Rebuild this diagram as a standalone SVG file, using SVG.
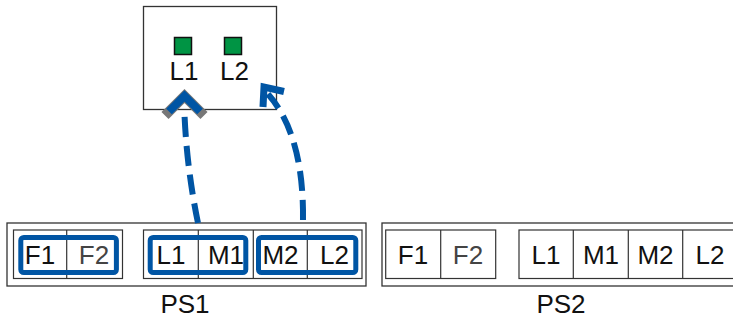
<svg xmlns="http://www.w3.org/2000/svg" width="733" height="320" viewBox="0 0 733 320">
<style>
.box{fill:#fff;stroke:#333;stroke-width:1.3}
.cell{fill:none;stroke:#333;stroke-width:1.2}
.sel{fill:none;stroke:#0055A4;stroke-width:5}
.t{font-family:"Liberation Sans",Arial,sans-serif;font-size:26px;fill:#111;text-anchor:middle}
.g{fill:#444}
.sq{fill:#009444;stroke:#111;stroke-width:1.5}
.dash{fill:none;stroke:#0055A4;stroke-width:6;stroke-dasharray:20 9}
</style>
<g id="top">
<rect class="box" x="143.5" y="6.5" width="133" height="103"/>
<rect class="sq" x="174.5" y="37.5" width="17" height="17"/>
<rect class="sq" x="224.5" y="37.5" width="17" height="17"/>
<text class="t" x="184" y="80">L1</text>
<text class="t" x="234.5" y="80">L2</text>
</g>
<g id="PS1">
<rect class="box" x="7" y="223" width="359" height="63"/>
<rect class="cell" x="13.5" y="230" width="109" height="48.5"/>
<line class="cell" x1="66.7" y1="230" x2="66.7" y2="278.5"/>
<rect class="cell" x="143.5" y="230" width="218.5" height="48.5"/>
<line class="cell" x1="198.3" y1="230" x2="198.3" y2="278.5"/>
<line class="cell" x1="253.3" y1="230" x2="253.3" y2="278.5"/>
<line class="cell" x1="307.3" y1="230" x2="307.3" y2="278.5"/>
<rect class="sel" x="20.8" y="237.5" width="95.6" height="35" rx="3"/>
<rect class="sel" x="150.2" y="237.5" width="95.6" height="35" rx="3"/>
<rect class="sel" x="258.5" y="237.5" width="97.3" height="35" rx="3"/>
<text class="t" x="40" y="264">F1</text>
<text class="t g" x="94" y="264">F2</text>
<text class="t" x="171" y="264">L1</text>
<text class="t" x="226" y="264">M1</text>
<text class="t" x="280.5" y="264">M2</text>
<text class="t" x="334.5" y="264">L2</text>
<text class="t" x="185" y="313">PS1</text>
</g>
<g id="PS2">
<rect class="box" x="382" y="223" width="360" height="63"/>
<rect class="cell" x="385.7" y="230" width="110" height="48.5"/>
<line class="cell" x1="440.7" y1="230" x2="440.7" y2="278.5"/>
<rect class="cell" x="519" y="230" width="220" height="48.5"/>
<line class="cell" x1="573.3" y1="230" x2="573.3" y2="278.5"/>
<line class="cell" x1="628.3" y1="230" x2="628.3" y2="278.5"/>
<line class="cell" x1="682.7" y1="230" x2="682.7" y2="278.5"/>
<text class="t" x="413" y="264">F1</text>
<text class="t g" x="468" y="264">F2</text>
<text class="t" x="546" y="264">L1</text>
<text class="t" x="601" y="264">M1</text>
<text class="t" x="655.5" y="264">M2</text>
<text class="t" x="710" y="264">L2</text>
<text class="t" x="561" y="313">PS2</text>
</g>
<g id="connectors">
<path class="dash" d="M198,223 Q187,170 184.5,115"/>
<polyline points="165,115.5 184.5,96 204,115.5" fill="none" stroke="#777" stroke-width="10"/>
<polyline points="169,111.5 184.5,96 200,111.5" fill="none" stroke="#0055A4" stroke-width="8"/>
<path class="dash" d="M303,220 Q304,135 268,94"/>
<polyline points="284,91.5 264,87 263,107" fill="none" stroke="#0055A4" stroke-width="7"/>
</g>
</svg>
